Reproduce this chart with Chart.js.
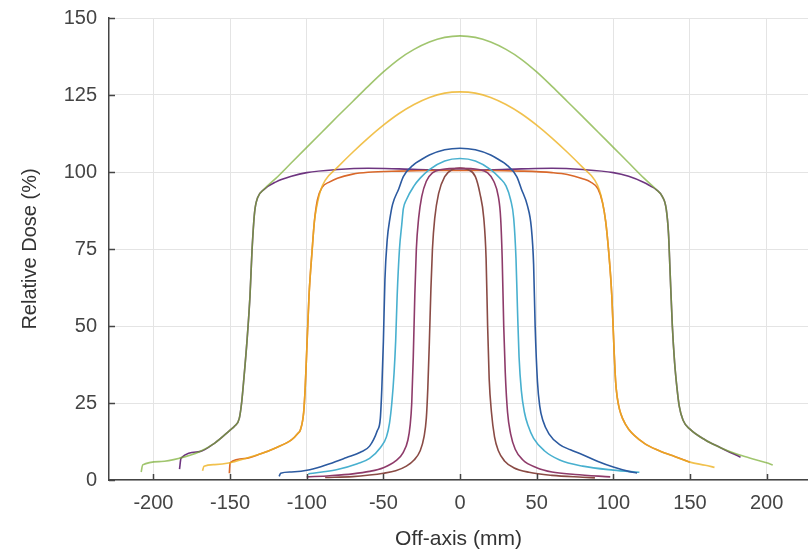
<!DOCTYPE html>
<html>
<head>
<meta charset="utf-8">
<script src="https://cdn.jsdelivr.net/npm/chart.js@4.4.1/dist/chart.umd.min.js"></script>
<style>
  html, body { margin: 0; padding: 0; background: #fff; }
  canvas { display: block; }
</style>
</head>
<body>
<canvas id="profiles" width="808" height="555"></canvas>
<script>
// off-axis position (mm) and relative dose (%) per profile
const green_x = [-208, -207, -195, -183, -170, -160, -150, -147, -144, -142.5, -141, -139, -137, -135.7, -134, -132, -128, -120, -110, -100, -90, -80, -70, -60, -50, -40, -30, -20, -10, 0, 10, 20, 30, 40, 50, 60, 70, 80, 90, 100, 110, 120, 128, 132, 134.5, 136, 137, 138.5, 140, 141.5, 143, 145.5, 150, 160, 170, 180, 190, 200, 204];
const green_y = [2.6, 4.9, 6, 7.1, 9.2, 12, 16.2, 17.5, 20, 25, 33, 45, 60, 74.5, 87, 91.7, 94.3, 98, 103, 108, 113, 118, 122.9, 127.8, 132.5, 136.6, 139.8, 142.2, 143.7, 144.2, 143.7, 142.2, 139.8, 136.6, 132.5, 127.8, 122.9, 118, 113, 108, 103, 98, 94.3, 92, 88, 80, 68, 50, 38, 30, 24, 19.4, 16.5, 13, 10.5, 8.5, 7, 5.6, 4.9];

const purple_x = [-183, -182, -170, -160, -150, -147, -144, -142.5, -141, -139, -137, -135.7, -134, -132, -128, -120, -110, -100, -80, -60, -40, -20, 0, 20, 40, 60, 80, 100, 110, 120, 124, 128, 132, 134.5, 136, 137, 138.5, 140, 141.5, 143, 145.5, 150, 160, 170, 183];
const purple_y = [3.5, 7.1, 9.2, 12, 16.2, 17.5, 20, 25, 33, 45, 60, 74.5, 87, 91.7, 94.3, 96.8, 98.6, 99.8, 100.8, 101.2, 101, 100.7, 100.6, 100.7, 101, 101.2, 100.8, 99.8, 98.6, 96.6, 95.5, 94.3, 92, 88, 80, 68, 50, 38, 30, 24, 19.4, 16.5, 13, 10.5, 7.4];

const yellow_x = [-168, -167, -160, -150, -140, -130, -120, -110, -106, -104, -102, -101, -100, -98.5, -96.5, -95, -93, -91, -88, -80, -70, -60, -50, -40, -30, -20, -10, 0, 10, 20, 30, 40, 50, 60, 70, 80, 88, 91, 93, 95, 97, 99, 100.5, 101.5, 102.5, 104, 106, 110, 120, 130, 140, 150, 160, 166];
const yellow_y = [3.0, 4.5, 5.0, 5.6, 7, 8.5, 10.5, 13, 15, 16.5, 22, 30, 42, 60, 74.5, 84, 90, 94, 97.3, 101.5, 106.4, 111, 115.2, 118.9, 121.9, 124.2, 125.6, 126, 125.6, 124.2, 121.9, 118.9, 115.2, 111, 106.4, 101.5, 97.3, 94, 90, 84, 74, 60, 42, 32, 27, 23, 20, 16.5, 12, 9.5, 7.6, 5.8, 4.8, 4.1];

const red_x = [-150.5, -150, -140, -130, -120, -110, -106, -104, -102, -101, -100, -98.5, -96.5, -95, -93, -90, -85, -80, -70, -60, -40, -20, 0, 20, 40, 60, 70, 80, 85, 90, 93, 95, 97, 99, 100.5, 101.5, 102.5, 104, 106, 110, 120, 130, 140, 150];
const red_y = [2.2, 5.6, 7, 8.5, 10.5, 13, 15, 16.5, 22, 30, 42, 60, 74.5, 84, 91, 95, 96.8, 98, 99.3, 99.9, 100.3, 100.5, 100.5, 100.5, 100.3, 99.8, 99.2, 97.8, 96.8, 94.5, 90, 84, 74, 60, 42, 32, 27, 23, 20, 16.5, 12, 9.5, 7.6, 5.8];

const blue_x = [-118, -117, -110, -98, -85, -74, -65, -59, -54, -52, -51, -50, -49, -47.5, -45.7, -44, -40, -37, -30, -26, -20, -10, 0, 10, 20, 26, 30, 37, 40, 44, 46.5, 48, 49, 50.5, 52, 54, 58, 65, 72, 80, 90, 100, 110, 115.5];
const blue_y = [1.2, 2.2, 2.6, 3.3, 5.3, 7.3, 9, 11, 16, 20, 30, 45, 65, 78, 85, 89.5, 94.5, 98.5, 102.5, 103.8, 105.5, 107.2, 107.7, 107.2, 105.5, 103.8, 102.5, 98.5, 94.5, 89, 82, 70, 50, 32, 24, 19.4, 15, 11.5, 9.8, 8.2, 6, 4.2, 2.8, 2.3];

const lightblue_x = [-99, -90, -80, -67, -59, -52, -48, -46, -44.5, -43, -42, -41, -39.5, -38, -37, -35, -30, -26, -20, -10, 0, 10, 20, 26, 30, 33, 35, 36.5, 37.5, 38.5, 40, 42, 44.5, 48, 55, 65, 80, 100, 117];
const lightblue_y = [2, 2.6, 3.4, 5.3, 7, 10.5, 14, 18.5, 25, 35, 45, 60, 75, 83, 88, 91, 95.5, 98, 100.8, 103.6, 104.4, 103.6, 100.8, 98, 95.5, 91, 85, 72, 55, 40, 29, 22, 17.5, 13.5, 9.5, 6.5, 4.5, 3.2, 2.5];

const mauve_x = [-100, -85, -70, -59, -50, -42, -37, -34, -32.5, -31.5, -30.5, -29.5, -28.5, -27, -25, -22, -18, -12, 0, 12, 18, 22, 25, 26.5, 27.5, 28.5, 29.5, 31, 33, 36, 41, 50, 60, 75, 98];
const mauve_y = [1, 1.4, 2, 2.8, 4, 6.2, 9, 13, 18, 25, 40, 60, 75, 85, 92, 97, 99.7, 100.8, 101.2, 100.8, 99.7, 97, 92, 85, 72, 50, 35, 22, 15, 10, 6.5, 4, 2.6, 1.8, 1];

const brown_x = [-88, -70, -59, -50, -42, -35, -30, -26, -23.5, -22, -21, -20, -19, -18, -16.5, -14, -10, -5, 0, 5, 10, 13, 15.5, 17, 18, 19, 20.5, 22.5, 25, 29, 35, 45, 60, 80, 88];
const brown_y = [0.8, 1.1, 1.6, 2.2, 3, 4.5, 6.5, 9.5, 14, 20, 30, 45, 62, 75, 85, 93, 98.5, 100.8, 101.3, 100.8, 98.5, 93, 85, 72, 50, 33, 22, 14, 9.5, 6.2, 4, 2.5, 1.5, 0.9, 0.7];

const xTicks = [-200, -150, -100, -50, 0, 50, 100, 150, 200];
const yTicks = [0, 25, 50, 75, 100, 125, 150];

function pts(xs, ys) {
  return xs.map((x, i) => ({x: x, y: ys[i]}));
}

function profile(label, xs, ys, color) {
  return {
    label: label,
    data: pts(xs, ys),
    borderColor: color,
    borderWidth: 1.6,
    pointRadius: 0,
    fill: false,
    cubicInterpolationMode: 'monotone'
  };
}

// small tick marks pointing into the plot, like the original figure
const innerTicks = {
  id: 'innerTicks',
  afterDraw(chart) {
    const c = chart.ctx;
    const xs = chart.scales.x;
    const ys = chart.scales.y;
    c.save();
    c.strokeStyle = '#444';
    c.lineWidth = 1.5;
    c.beginPath();
    xTicks.forEach(v => {
      const px = Math.round(xs.getPixelForValue(v)) + 0.5;
      c.moveTo(px, ys.bottom);
      c.lineTo(px, ys.bottom - 6);
    });
    yTicks.forEach(v => {
      const py = Math.round(ys.getPixelForValue(v)) + 0.5;
      c.moveTo(xs.left, py);
      c.lineTo(xs.left + 6, py);
    });
    c.stroke();
    c.restore();
  }
};

const font = "'Liberation Sans', Arial, sans-serif";

// first dataset ends up on top
const ctx = document.getElementById('profiles');
new Chart(ctx, {
  type: 'line',
  data: {
    datasets: [
      profile('100', blue_x, blue_y, '#2C5AA0'),
      profile('80', lightblue_x, lightblue_y, '#48B0CF'),
      profile('60', mauve_x, mauve_y, '#8E3B6A'),
      profile('40', brown_x, brown_y, '#8A4B45'),
      profile('200', yellow_x, yellow_y, 'rgba(237,177,32,0.8)'),
      profile('200 flat', red_x, red_y, '#D9682A'),
      profile('270', green_x, green_y, 'rgba(119,172,48,0.7)'),
      profile('270 flat', purple_x, purple_y, '#6E3580')
    ]
  },
  plugins: [innerTicks],
  options: {
    responsive: false,
    animation: false,
    devicePixelRatio: 1,
    layout: { padding: { top: 18, left: 0, right: 0, bottom: 0 } },
    plugins: {
      legend: { display: false },
      tooltip: { enabled: false }
    },
    scales: {
      x: {
        type: 'linear',
        min: -229,
        max: 227,
        afterBuildTicks: (scale) => {
          scale.ticks = xTicks.map(v => ({value: v}));
        },
        afterFit: (scale) => { scale.height = 75; },
        grid: { color: '#e4e4e4', lineWidth: 1, drawTicks: false },
        border: { color: '#444', width: 1.5 },
        ticks: {
          padding: 11,
          color: '#444',
          font: { family: font, size: 20 }
        },
        title: {
          display: true,
          text: 'Off-axis (mm)',
          color: '#333',
          padding: { top: 0, bottom: 3 },
          font: { family: font, size: 21 }
        }
      },
      y: {
        min: 0,
        max: 150,
        afterBuildTicks: (scale) => {
          scale.ticks = yTicks.map(v => ({value: v}));
        },
        afterFit: (scale) => {
          scale.width = 109;
          scale.paddingTop = 0;
          scale.paddingBottom = 0;
        },
        grid: { color: '#e4e4e4', lineWidth: 1, drawTicks: false },
        border: { color: '#444', width: 1.5 },
        ticks: {
          padding: 12,
          color: '#444',
          font: { family: font, size: 20 }
        },
        title: {
          display: true,
          text: 'Relative Dose (%)',
          color: '#333',
          padding: { top: 18, bottom: 0 },
          font: { family: font, size: 20 }
        }
      }
    }
  }
});
</script>
</body>
</html>
